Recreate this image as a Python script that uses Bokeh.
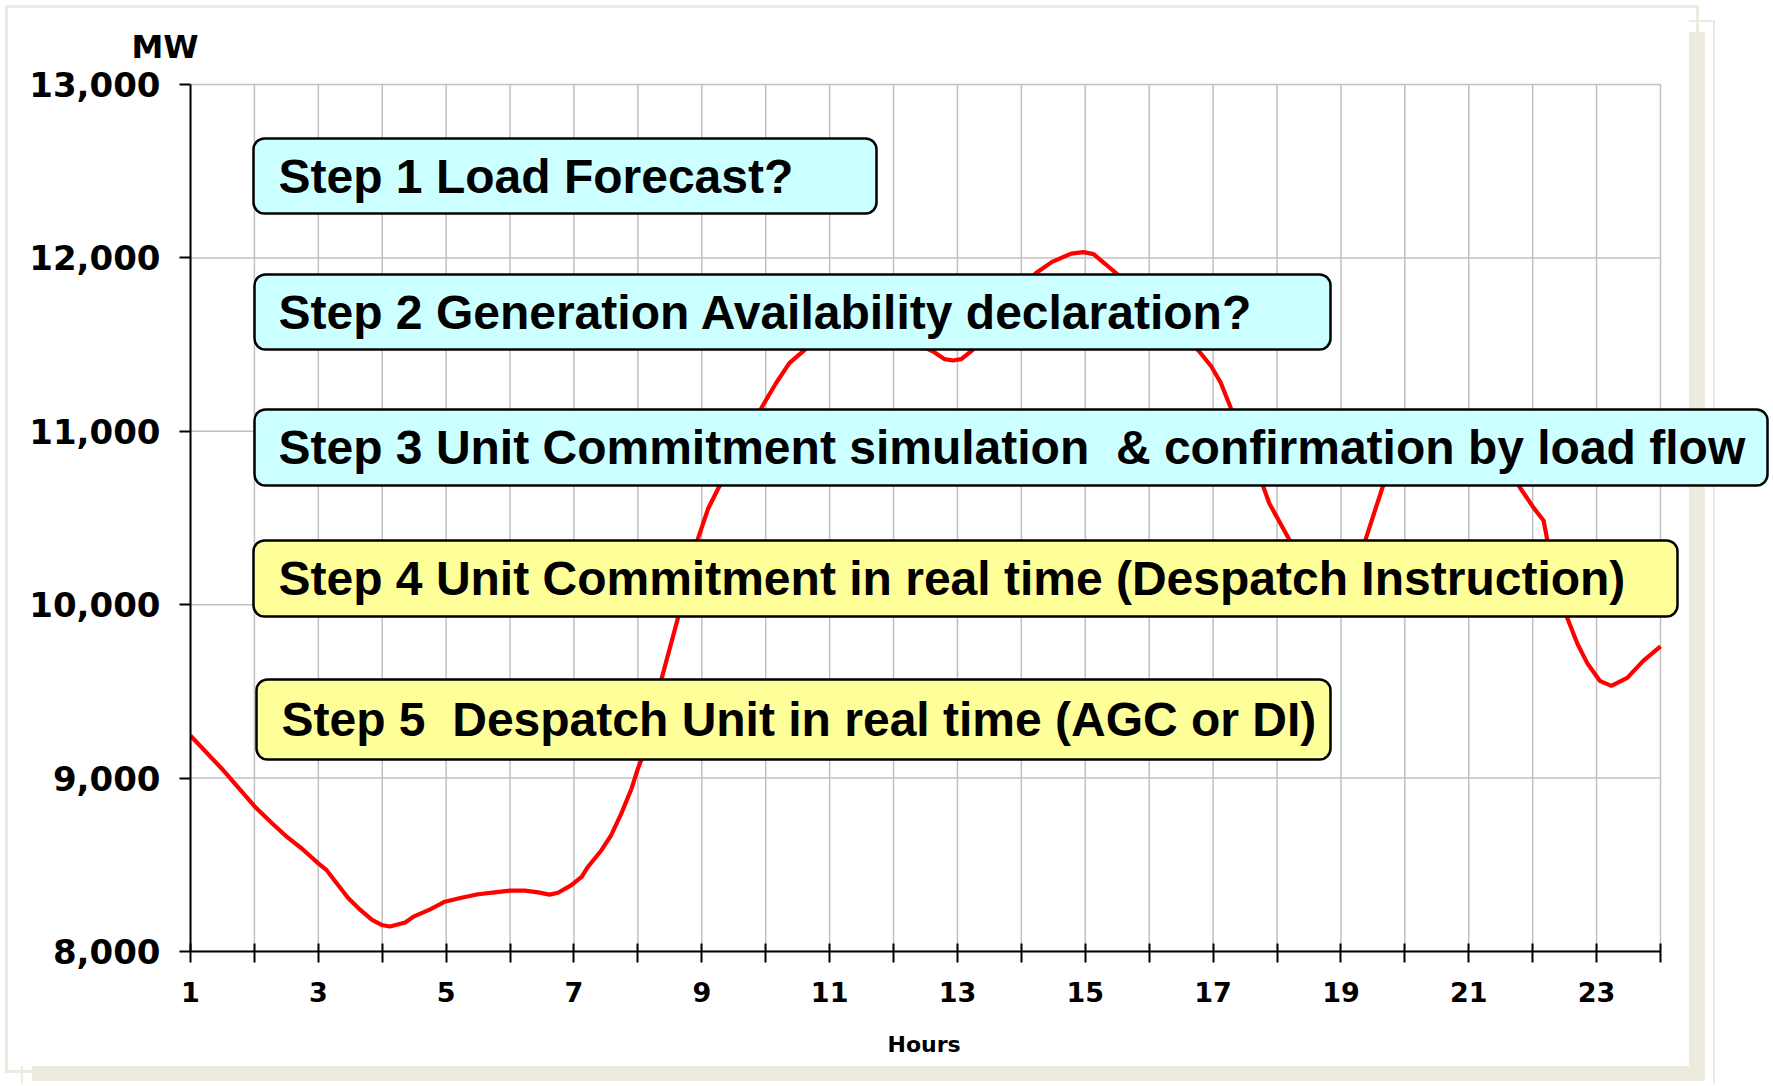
from bokeh.plotting import figure
from bokeh.models import Range1d, FixedTicker, NumeralTickFormatter, BoxAnnotation, Label, Title
from bokeh.embed import file_html
from bokeh.resources import INLINE

# ---------------- data ----------------
hours = [1.00, 1.49, 2.02, 2.28, 2.48, 2.74, 3.00, 3.13, 3.47, 3.63, 3.84, 3.99,
         4.12, 4.36, 4.49, 4.75, 4.98, 5.24, 5.50, 5.76, 6.00, 6.23, 6.44, 6.62,
         6.75, 6.96, 7.12, 7.22, 7.43, 7.58, 7.74, 7.90, 8.00, 8.06, 8.20, 8.37,
         8.63, 8.94, 9.10, 9.27, 9.60, 9.93, 10.16, 10.37, 10.61, 10.90, 11.30,
         11.70, 12.10, 12.40, 12.62, 12.80, 12.93, 13.06, 13.24, 13.60, 13.90,
         14.23, 14.48, 14.78, 14.97, 15.13, 15.30, 15.49, 15.90, 16.30, 16.77,
         16.97, 17.12, 17.28, 17.50, 17.79, 17.88, 18.20, 18.50, 18.80, 19.10,
         19.38, 19.65, 19.90, 20.30, 20.80, 21.30, 21.60, 21.80, 22.01, 22.17,
         22.23, 22.54, 22.70, 22.86, 23.05, 23.23, 23.48, 23.73, 24.00]
load_mw = [9245, 9054, 8830, 8738, 8670, 8594, 8508, 8469, 8307, 8249, 8182, 8153,
           8144, 8167, 8201, 8243, 8287, 8310, 8330, 8341, 8351, 8351, 8341, 8328,
           8339, 8383, 8431, 8489, 8584, 8670, 8795, 8939, 9054, 9111, 9330, 9572,
           9928, 10381, 10555, 10680, 10930, 11133, 11277, 11393, 11470, 11560, 11620,
           11620, 11560, 11500, 11460, 11416, 11408, 11416, 11470, 11650, 11790,
           11913, 11977, 12025, 12033, 12022, 11969, 11909, 11780, 11640, 11466,
           11375, 11280, 11131, 10935, 10676, 10584, 10370, 10250, 10200, 10240,
           10370, 10676, 10880, 11000, 11020, 10930, 10800, 10676, 10561, 10486,
           10370, 9925, 9775, 9659, 9561, 9532, 9578, 9676, 9760]

y_ticks = [8000, 9000, 10000, 11000, 12000, 13000]
x_ticks = list(range(1, 25))
x_tick_labels = {h: (str(h) if h % 2 == 1 else "") for h in x_ticks}

NB = "\u00a0"  # keeps the double spaces of the original visible in SVG text
step_texts = [
    "Step 1 Load Forecast?",
    "Step 2 Generation Availability declaration?",
    "Step 3 Unit Commitment simulation " + NB + "& confirmation by load flow",
    "Step 4 Unit Commitment in real time (Despatch Instruction)",
    "Step 5 " + NB + "Despatch Unit in real time (AGC or DI)",
]
step_colors = ["#CCFFFF", "#CCFFFF", "#CCFFFF", "#FFFF99", "#FFFF99"]

# ---------------- layout (page pixels; the figure sits at page 0,0) ----------------
W, H = 1770, 1084
PLOT_L, PLOT_R = 190, 1660        # page x of hour 1 / hour 24
PLOT_T, PLOT_B = 84, 951          # page y of 13000 / 8000
FRAME_T = 65                      # frame extends above the data area (room for boxes)
x0, x1 = x_ticks[0], x_ticks[-1]
y0, y1 = y_ticks[0], y_ticks[-1]
x_per_px = (x1 - x0) / (PLOT_R - PLOT_L)
y_per_px = (y1 - y0) / (PLOT_B - PLOT_T)

def sx(px):  # page x -> frame screen x
    return px - PLOT_L
def sy(py):  # page y -> frame screen y (upwards)
    return PLOT_B - py

p = figure(width=W, height=H, output_backend="svg", toolbar_location=None,
           x_range=Range1d(x0, x1 + (W - PLOT_R) * x_per_px),
           y_range=Range1d(y0, y1 + (PLOT_T - FRAME_T) * y_per_px),
           min_border_left=PLOT_L, min_border_right=0, min_border_top=FRAME_T,
           min_border_bottom=H - PLOT_B)
p.outline_line_color = None
p.background_fill_color = None
p.border_fill_color = None
p.xgrid.visible = False
p.ygrid.visible = False

# slide frame decoration drawn as CSS background under the transparent canvas
beige = "#EDEADF"
deco = [(5, 5, 1693, 3), (5, 5, 3, 1068), (1696, 5, 3, 1068), (5, 1070, 1693, 3),
        (1689, 32, 16, 1049), (32, 1066, 1673, 15),
        (1689, 20, 26, 2), (1713, 20, 2, 1066), (21, 1066, 2, 20)]
p.styles = {
    "background-color": "white",
    "background-image": ", ".join([f"linear-gradient({beige},{beige})"] * len(deco)),
    "background-size": ", ".join(f"{w}px {h}px" for (_, _, w, h) in deco),
    "background-position": ", ".join(f"{x}px {y}px" for (x, y, _, _) in deco),
    "background-repeat": "no-repeat",
}

# grid lines (limited to the data area)
grid_col = "#C0C0C0"
p.segment(x0=x_ticks, y0=[y0] * len(x_ticks), x1=x_ticks, y1=[y1] * len(x_ticks),
          line_color=grid_col, line_width=1.5)
p.segment(x0=[x0] * len(y_ticks), y0=y_ticks, x1=[x1] * len(y_ticks), y1=y_ticks,
          line_color=grid_col, line_width=1.5)

# axes
p.xaxis.ticker = FixedTicker(ticks=x_ticks)
p.xaxis.major_label_overrides = x_tick_labels
p.xaxis.bounds = (x0, x1)
p.yaxis.ticker = FixedTicker(ticks=y_ticks)
p.yaxis.formatter = NumeralTickFormatter(format="0,0")
p.yaxis.bounds = (y0, y1)
for ax in (p.xaxis[0], p.yaxis[0]):
    ax.axis_line_color = "black"
    ax.axis_line_width = 2
    ax.major_tick_line_color = "black"
    ax.major_tick_line_width = 2
    ax.minor_tick_line_color = None
    ax.major_label_text_font = "DejaVu Sans"
    ax.major_label_text_font_style = "bold"
    ax.major_label_text_color = "black"
p.xaxis.major_tick_in = 8
p.xaxis.major_tick_out = 11
p.yaxis.major_tick_in = 0
p.yaxis.major_tick_out = 11
p.yaxis.major_label_text_font_size = "34px"
p.xaxis.major_label_text_font_size = "27px"
p.yaxis.major_label_standoff = 19
p.xaxis.major_label_standoff = 19

# x-axis caption, centred under the data area (hours 1..24)
hours_title = Title(text="Hours", align="left", offset=887 - PLOT_L, standoff=50,
                    text_font="DejaVu Sans", text_font_style="bold",
                    text_font_size="22px", text_color="black")
p.add_layout(hours_title, "below")

# unit label as title
p.title.text = "MW"
p.title.align = "left"
p.title.offset = 131 - PLOT_L
p.title.standoff = 0
p.title.text_font = "DejaVu Sans"
p.title.text_font_style = "bold"
p.title.text_font_size = "32px"
p.title.text_color = "black"

# load curve
p.line(hours, load_mw, line_color="#FF0000", line_width=4.2)

# step boxes (page pixel extents)
def box(l, t, r, b, **kw):
    return BoxAnnotation(left=sx(l), right=sx(r), top=sy(t), bottom=sy(b),
                         left_units="screen", right_units="screen",
                         top_units="screen", bottom_units="screen", **kw)

box_l = [253, 254, 254, 253, 256]
box_r = [876, 1330, 1767, 1677, 1330]
box_t = [138, 274, 409, 540, 679]
box_b = [213, 349, 485, 616, 759]
text_x = [278, 278, 278, 278, 281]
for i, txt in enumerate(step_texts):
    p.add_layout(box(box_l[i], box_t[i], box_r[i], box_b[i], fill_color=step_colors[i],
                     fill_alpha=1, line_color="black", line_alpha=1, line_width=2.5,
                     border_radius=11))
    p.add_layout(Label(x=sx(text_x[i]), y=sy((box_t[i] + box_b[i]) / 2),
                       x_units="screen", y_units="screen", text=txt,
                       text_font="Liberation Sans", text_font_style="bold",
                       text_font_size="48px", text_color="black",
                       text_align="left", text_baseline="middle"))

open("out.html", "w").write(file_html(p, INLINE))
